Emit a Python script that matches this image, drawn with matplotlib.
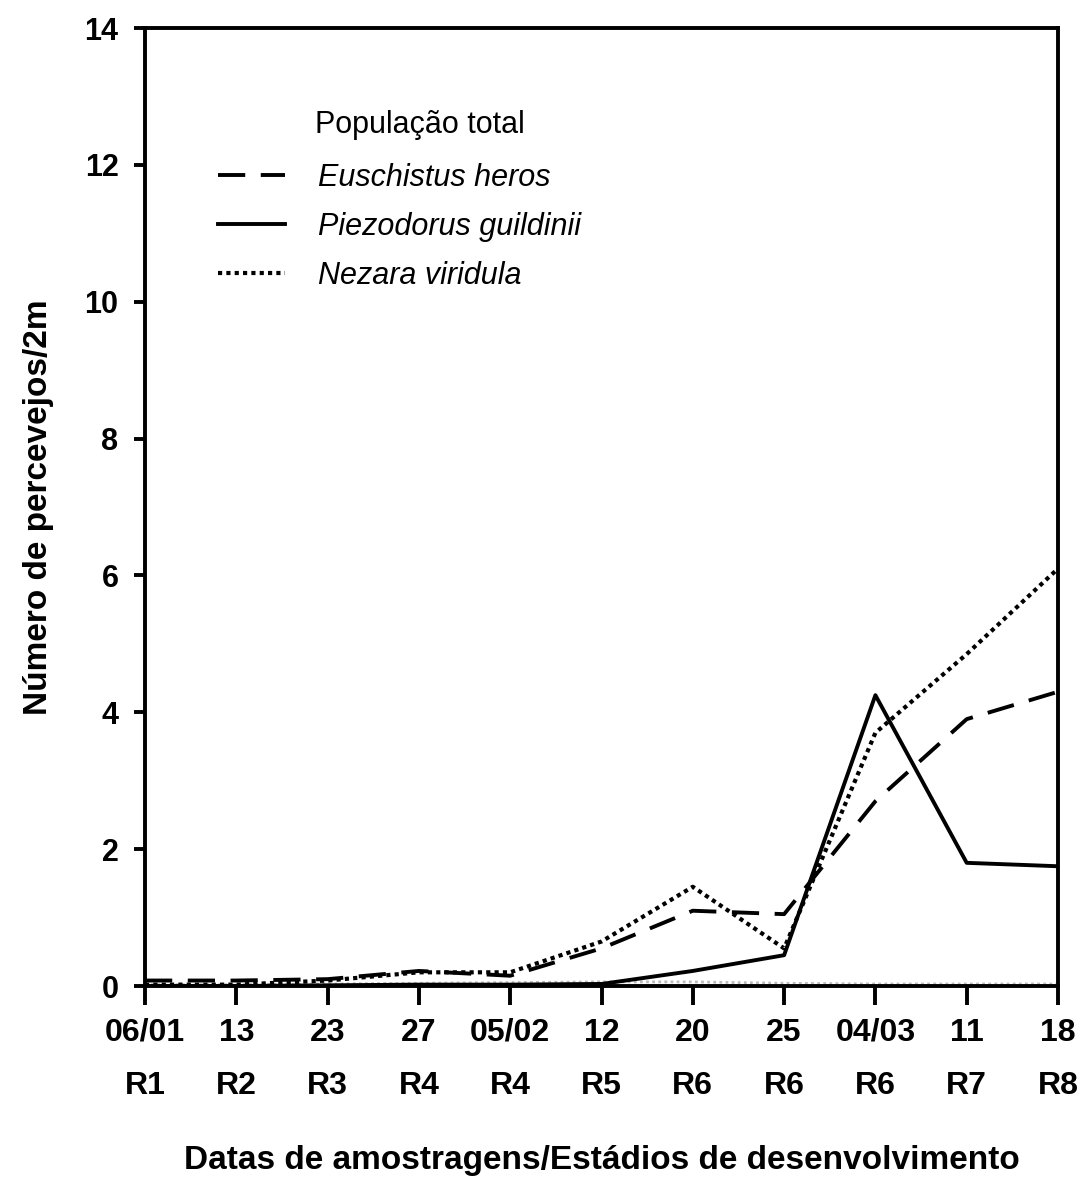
import matplotlib
matplotlib.use("Agg")
import matplotlib.pyplot as plt
from matplotlib import font_manager

plt.rcParams['font.family'] = ['Liberation Sans', 'DejaVu Sans']

dates = ["06/01", "13", "23", "27", "05/02", "12", "20", "25", "04/03", "11", "18"]
stages = ["R1", "R2", "R3", "R4", "R4", "R5", "R6", "R6", "R6", "R7", "R8"]

euschistus = [0.08, 0.08, 0.10, 0.22, 0.15, 0.55, 1.10, 1.05, 2.70, 3.90, 4.30]
piezodorus = [0.00, 0.00, 0.01, 0.02, 0.02, 0.03, 0.22, 0.45, 4.25, 1.80, 1.75]
nezara = [0.02, 0.02, 0.08, 0.20, 0.20, 0.65, 1.45, 0.55, 3.70, 4.85, 6.10]
other = [0.02, 0.02, 0.03, 0.04, 0.05, 0.06, 0.06, 0.04, 0.03, 0.03, 0.03]

names = {f.name for f in font_manager.fontManager.ttflist}
if 'Liberation Sans Narrow' in names:
    xfam, xsize = ['Liberation Sans Narrow', 'DejaVu Sans'], 26
else:
    xfam, xsize = ['Liberation Sans', 'DejaVu Sans'], 23

fig = plt.figure(figsize=(10.88, 11.77), dpi=100)
ax = fig.add_axes([145/1088, 1-986/1177, 913/1088, 958/1177])

x = list(range(len(dates)))
ax.plot(x, other, color='#bbbbbb', lw=2.0, ls=(0, (1, 1.2)), zorder=1)
l1, = ax.plot(x, euschistus, color='black', lw=2.8, ls=(0, (7, 4)), label='Euschistus heros')
l2, = ax.plot(x, piezodorus, color='black', lw=2.8, ls='-', label='Piezodorus guildinii')
l3, = ax.plot(x, nezara, color='black', lw=3.0, ls=(0, (1.0, 1.0)), label='Nezara viridula')

ax.set_xlim(0, 10)
ax.set_ylim(0, 14)
ax.set_yticks([0, 2, 4, 6, 8, 10, 12, 14])
ax.set_xticks(x)
ax.set_xticklabels([f"{d}\n{s}" for d, s in zip(dates, stages)], linespacing=2.0,
                   family=xfam, fontsize=xsize, fontweight='bold')

for sp in ax.spines.values():
    sp.set_linewidth(2.8)

ax.tick_params(axis='y', direction='out', length=8, width=2.8, labelsize=22, pad=11)
ax.tick_params(axis='x', direction='out', length=14, width=2.8, pad=9)
for lab in ax.get_yticklabels():
    lab.set_fontweight('bold')

ax.set_ylabel("Número de percevejos/2m", fontsize=24, fontweight='bold', labelpad=22)
fig.text(0.5 * (183 + 1020) / 1088, 1 - 1160/1177,
         "Datas de amostragens/Estádios de desenvolvimento", fontsize=24,
         fontweight='bold', ha='center', va='center')

fig.text(315/1088, 1-125/1177, "População total", fontsize=22, va='center', ha='left')
leg = ax.legend(handles=[l1, l2, l3], loc='upper left',
                bbox_to_anchor=(218/1088, 1-163/1177), bbox_transform=fig.transFigure,
                frameon=False, fontsize=22, handlelength=2.2, handletextpad=1.08,
                labelspacing=0.62, borderpad=0, borderaxespad=0)
for t in leg.get_texts():
    t.set_fontstyle('italic')

fig.savefig("out.png", dpi=100)
